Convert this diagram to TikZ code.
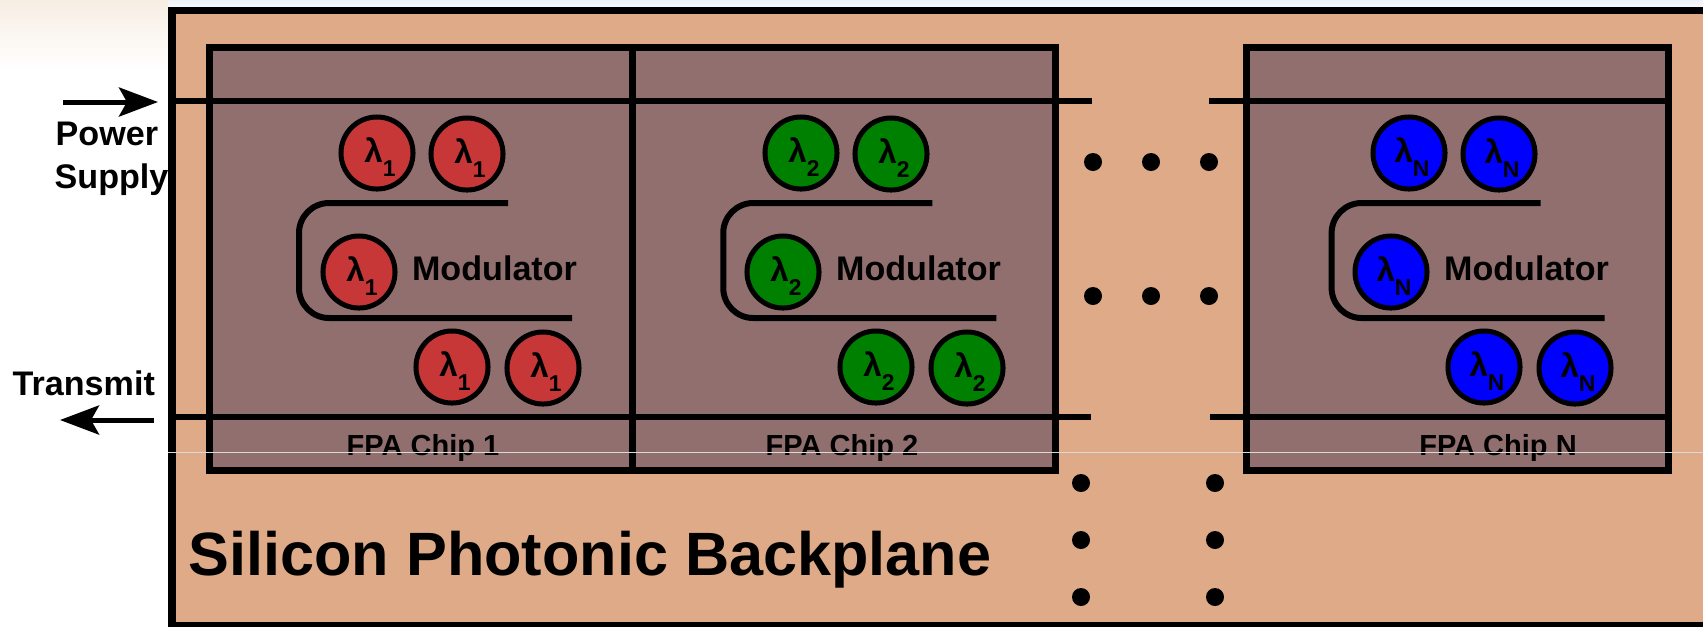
\documentclass[tikz,border=0pt]{standalone}
\usepackage{fontspec}
\setmainfont{Liberation Sans}
\usetikzlibrary{arrows.meta}
\definecolor{backplane}{HTML}{DEAA87}
\definecolor{chipfill}{HTML}{916F6F}
\definecolor{lamred}{HTML}{C83737}
\definecolor{lamgreen}{HTML}{008000}
\definecolor{lamblue}{HTML}{0000FF}
\definecolor{smear}{HTML}{F7EEE3}
\definecolor{smearlow}{HTML}{FBF8F9}
\definecolor{haze}{HTML}{EEF2F7}
\newcommand{\lamsub}[1]{\hspace{0.06cm}λ\raisebox{-0.14cm}{\fontsize{6.5}{7}\selectfont #1}}
\tikzset{
    box/.style={draw=black, line width=0.07cm},
    bus/.style={line width=0.06cm},
    guide/.style={line width=0.06cm, rounded corners=0.3cm},
    ring/.style={circle, draw=black, line width=0.05cm, minimum size=0.72cm, inner sep=0pt, text height=0.25cm, text depth=0.058cm, font=\bfseries\fontsize{9.4}{12}\selectfont},
    dot/.style={circle, fill=black, inner sep=0pt, minimum size=0.18cm},
    chiplabel/.style={font=\bfseries\fontsize{8.25}{10}\selectfont},
    modlabel/.style={anchor=base, inner sep=0pt, font=\bfseries\fontsize{9.7}{11}\selectfont},
    sidelabel/.style={font=\bfseries\fontsize{9.7}{11}\selectfont, anchor=base west, inner sep=0pt},
    flow/.style={line width=0.05cm, -{Stealth[length=0.39cm, width=0.29cm, inset=0.08cm]}}
}
\begin{document}
\begin{tikzpicture}[x=0.01cm, y=-0.01cm]

        \clip (0,0) rectangle (1703,626);
        \shade[top color=haze, bottom color=white] (100,0) rectangle (1703,10);
        \shade[top color=smear, middle color=smearlow, bottom color=white] (0,0) rectangle (168,70);

        \coordinate (O1) at (172,10);
        \coordinate (O2) at (1720,625);
        \coordinate (a1) at (209,47);
        \coordinate (a2) at (1055,470);
        \coordinate (b1) at (1246,47);
        \coordinate (b2) at (1668,470);
        \coordinate (m1) at (632,47);
        \coordinate (m2) at (632,470);
        \coordinate (p1) at (172,101);
        \coordinate (p2) at (1092,101);
        \coordinate (p3) at (1209,101);
        \coordinate (p4) at (1668,101);
        \coordinate (t1) at (172,417);
        \coordinate (t2) at (1091,417);
        \coordinate (t3) at (1210,417);
        \coordinate (t4) at (1668,417);
        \coordinate (pin1) at (63,102);
        \coordinate (pin2) at (158,102);
        \coordinate (tout1) at (154,420);
        \coordinate (tout2) at (60,420);
        \coordinate (wa1) at (508,203);
        \coordinate (wb1) at (572,318);
        \coordinate (wl1) at (299,260);
        \coordinate (wa2) at ([xshift=4.24cm]wa1);
        \coordinate (wb2) at ([xshift=4.24cm]wb1);
        \coordinate (wl2) at ([xshift=4.24cm]wl1);
        \coordinate (wa3) at ([xshift=10.32cm]wa1);
        \coordinate (wb3) at ([xshift=10.32cm]wb1);
        \coordinate (wl3) at ([xshift=10.32cm]wl1);
        \coordinate (s1) at (168,452);
        \coordinate (s2) at (1703,452);

        % backplane and chips
        \draw[box, fill=backplane] (O1) rectangle (O2);
        \draw[box, fill=chipfill] (a1) rectangle (a2);
        \draw[box, fill=chipfill] (b1) rectangle (b2);
        \draw[box] (m1)--(m2);

        \draw[bus] (p1)--(p2);
        \draw[bus] (p3)--(p4);
        \draw[bus] (t1)--(t2);
        \draw[bus] (t3)--(t4);
        \draw[flow] (pin1)--(pin2);
        \draw[flow] (tout1)--(tout2);

        \draw[guide] (wa1)--(wa1-|wl1)--(wb1-|wl1)--(wb1);
        \draw[guide] (wa2)--(wa2-|wl2)--(wb2-|wl2)--(wb2);
        \draw[guide] (wa3)--(wa3-|wl3)--(wb3-|wl3)--(wb3);

        % chip 1
        \node[ring, fill=lamred] (r11) at (377,153) {\lamsub{1}};
        \node[ring, fill=lamred] (r12) at (467,154) {\lamsub{1}};
        \node[ring, fill=lamred] (r13) at (359,272) {\lamsub{1}};
        \node[ring, fill=lamred] (r14) at (452,367) {\lamsub{1}};
        \node[ring, fill=lamred] (r15) at (543,368) {\lamsub{1}};
        \node[modlabel] (mod1) at (494.5,280) {Modulator};
        \node[chiplabel] (chip1) at (423,448) {FPA Chip 1};

        % chip 2
        \node[ring, fill=lamgreen] (r21) at (801,153) {\lamsub{2}};
        \node[ring, fill=lamgreen] (r22) at (891,154) {\lamsub{2}};
        \node[ring, fill=lamgreen] (r23) at (783,272) {\lamsub{2}};
        \node[ring, fill=lamgreen] (r24) at (876,367) {\lamsub{2}};
        \node[ring, fill=lamgreen] (r25) at (967,368) {\lamsub{2}};
        \node[modlabel] (mod2) at (918.5,280) {Modulator};
        \node[chiplabel] (chip2) at (842,448) {FPA Chip 2};

        % chip N
        \node[ring, fill=lamblue] (r31) at (1409,153) {\lamsub{N}};
        \node[ring, fill=lamblue] (r32) at (1499,154) {\lamsub{N}};
        \node[ring, fill=lamblue] (r33) at (1391,272) {\lamsub{N}};
        \node[ring, fill=lamblue] (r34) at (1484,367) {\lamsub{N}};
        \node[ring, fill=lamblue] (r35) at (1575,368) {\lamsub{N}};
        \node[modlabel] (mod3) at (1526.5,280) {Modulator};
        \node[chiplabel] (chip3) at (1498,448) {FPA Chip N};

        % dots between the chips
        \node[dot] (d1) at (1093,162) {};
        \node[dot] (d2) at (1151,162) {};
        \node[dot] (d3) at (1209,162) {};
        \node[dot] (d4) at (1093,296) {};
        \node[dot] (d5) at (1151,296) {};
        \node[dot] (d6) at (1209,296) {};
        \node[dot] (d7) at (1081,483) {};
        \node[dot] (d8) at (1081,540) {};
        \node[dot] (d9) at (1081,597) {};
        \node[dot] (d10) at (1215,483) {};
        \node[dot] (d11) at (1215,540) {};
        \node[dot] (d12) at (1215,597) {};

        \node[sidelabel] (power) at (55,145) {Power};
        \node[sidelabel] (supply) at (54,188) {Supply};
        \node[sidelabel] (transmit) at (12,395) {Transmit};
        \node[anchor=base west, inner sep=0pt, font=\bfseries\fontsize{17.4}{20}\selectfont] (title) at (188,575) {Silicon Photonic Backplane};

        \draw[white!85!black, line width=0.01cm] (s1)--(s2);

\end{tikzpicture}
\end{document}
